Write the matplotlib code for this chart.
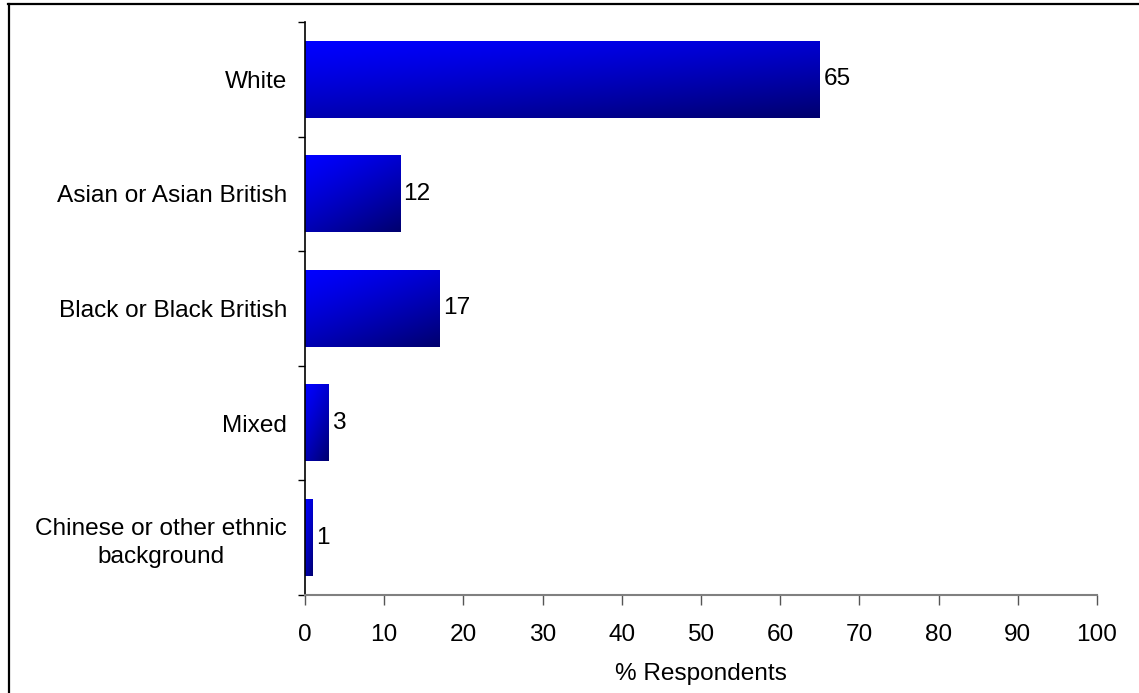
import numpy as np
import matplotlib
matplotlib.use("Agg")
import matplotlib.pyplot as plt
from matplotlib.colors import LinearSegmentedColormap
from matplotlib.lines import Line2D

categories = ["White", "Asian or Asian British", "Black or Black British",
              "Mixed", "Chinese or other ethnic\nbackground"]
values = [65, 12, 17, 3, 1]
xticks = [0, 10, 20, 30, 40, 50, 60, 70, 80, 90, 100]

plt.rcParams['font.family'] = ['Liberation Sans', 'DejaVu Sans']
FS = 17.6

fig = plt.figure(figsize=(11.39, 6.93), dpi=100)
ax = fig.add_axes([305/1139, 1-595/693, (1097-305)/1139, (595-22)/693])

cmap = LinearSegmentedColormap.from_list("bl", [(0, 0, 1.0), (0, 0, 0.43)])
gx, gy = np.meshgrid(np.linspace(0, 1, 200), np.linspace(0, 1, 60))
grad = (0.4 * gx + 0.6 * gy) ** 1.25

h = 0.67
pos = np.arange(len(categories))
for p, v in zip(pos, values):
    ax.imshow(grad, cmap=cmap, vmin=0, vmax=1, aspect='auto',
              extent=(0, v, p + h/2, p - h/2), interpolation='bilinear', zorder=2)
    ax.text(v + 0.45, p, str(v), va='center', ha='left', fontsize=FS, color='black')

ax.set_xlim(0, 100)
ax.set_ylim(len(categories) - 0.5, -0.5)
ax.set_xticks(xticks)
ax.set_xticklabels([str(t) for t in xticks], fontsize=FS)
ax.set_yticks(pos)
ax.set_yticklabels(categories, fontsize=FS, multialignment='center', linespacing=1.35)
ax.set_yticks(np.arange(-0.5, len(categories)), minor=True)
ax.tick_params(axis='y', which='major', length=0, pad=13)
ax.tick_params(axis='y', which='minor', length=5, width=1, color='black', direction='out')
ax.tick_params(axis='x', which='major', length=7, width=1, color='#555555', direction='out', pad=14)
ax.set_xlabel("% Respondents", fontsize=FS, labelpad=12)

for s in ['top', 'right']:
    ax.spines[s].set_visible(False)
ax.spines['left'].set_color('black')
ax.spines['left'].set_linewidth(1.2)
ax.spines['bottom'].set_color('#808080')
ax.spines['bottom'].set_linewidth(1.5)

# outer frame (top and left edges visible)
fig.add_artist(Line2D([8/1139, 1.0], [1-3.5/693, 1-3.5/693], transform=fig.transFigure,
                      color='black', linewidth=1.6))
fig.add_artist(Line2D([8.5/1139, 8.5/1139], [1-3.5/693, 0], transform=fig.transFigure,
                      color='black', linewidth=1.6))

fig.savefig("out.png", dpi=100)
